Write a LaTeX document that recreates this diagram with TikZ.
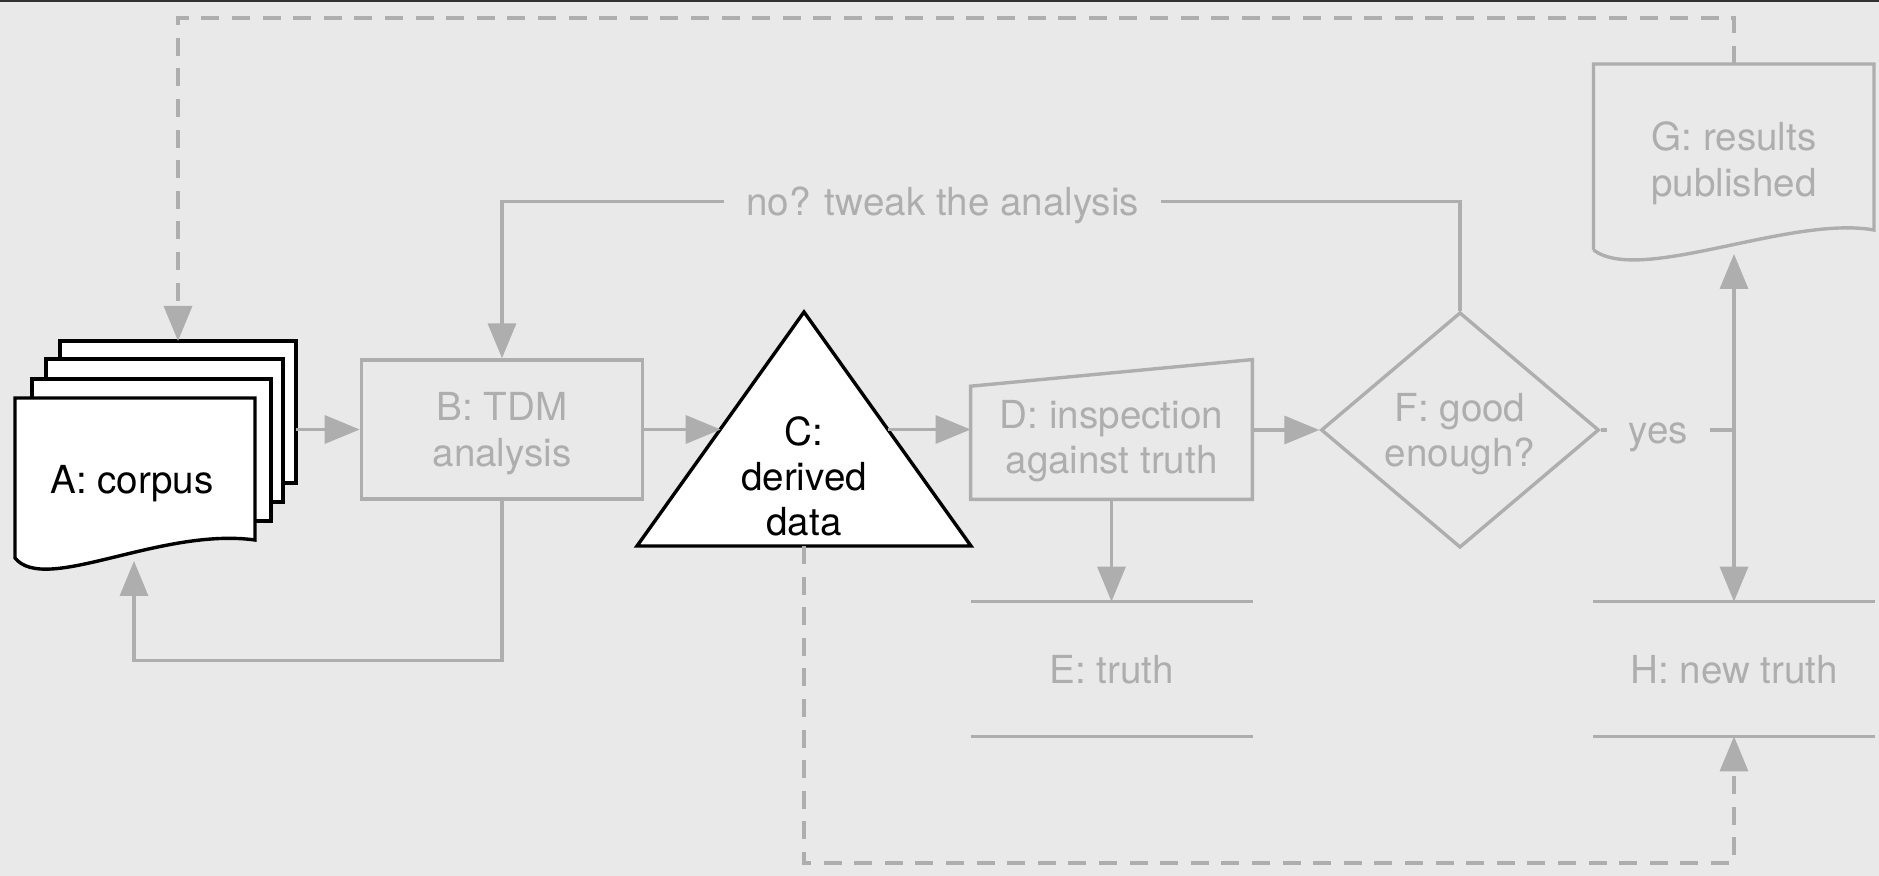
\documentclass[tikz,border=0pt]{standalone}
\usepackage{fontspec}
\setmainfont{TeX Gyre Heros}
\usetikzlibrary{arrows.meta,shapes.geometric}

\definecolor{bgcol}{RGB}{233,233,233}
\definecolor{lncol}{RGB}{174,174,174}
\definecolor{topcol}{RGB}{50,50,50}

\tikzset{
	ln/.style={draw=lncol,line width=1.7pt},
	blk/.style={draw=black,line width=1.7pt,fill=white},
	dsh/.style={ln,dash pattern=on 9pt off 6.3pt},
	txt/.style={font=\fontsize{19.3}{22.7}\selectfont,align=center,text depth=0pt,inner sep=0pt},
	gtxt/.style={txt,text=lncol},
	lbl/.style={gtxt,fill=bgcol,text height=13.9pt,inner xsep=11pt,inner ysep=3pt},
	box/.style={gtxt,minimum width=140.6pt,minimum height=69.5pt},
	store/.style={gtxt,minimum width=140.6pt,minimum height=67pt},
	>={Triangle[length=17.5pt,width=14pt]}
}

\begin{document}
\begin{tikzpicture}[x=0.5pt,y=-0.5pt]
	\useasboundingbox (0,0) rectangle (1879,876);
	\fill[bgcol] (0,0) rectangle (1879,876);
	\fill[topcol] (0,0) rectangle (1879,2);

	% A: stack of sheets
	\draw[blk] (60,341) rectangle (296,483);
	\draw[blk] (46,359) rectangle (283,502);
	\draw[blk] (32,379) rectangle (271,521);
	\draw[blk] (15,398) -- (255,398) -- (255,540) .. controls (160,527) and (45,595) .. (15,558) -- cycle;
	\node[txt] (A) at (132,479) {A: corpus};
	\coordinate (A-r) at (296,429.5);
	\coordinate (A-t) at (178,341);
	\coordinate (A-b) at (134,561);

	% B
	\node[box,draw=lncol,line width=1.7pt] (B) at (502,429.5) {B: TDM\\analysis};

	% C: triangle
	\draw[blk] (804,312) -- (971,546) -- (637,546) -- cycle;
	\node[txt] (C) at (804,476) {C:\\derived\\data};
	\coordinate (C-l) at (720.7,429.5);
	\coordinate (C-r) at (887.5,429.5);
	\coordinate (C-b) at (804,546);

	% D: slanted top
	\node[gtxt,minimum width=140.5pt,minimum height=62pt] (D) at (1111.5,437) {D: inspection\\against truth};
	\draw[ln] (D.south west) -- (D.south east) -- ([yshift=7.5pt]D.north east) -- ([yshift=-5.8pt]D.north west) -- cycle;

	% E
	\node[store] (E) at (1111.5,669) {E: truth};
	\draw[ln] (E.north west) -- (E.north east) (E.south west) -- (E.south east);

	% F
	\node[gtxt,diamond,draw=lncol,line width=1.7pt,minimum width=139pt,minimum height=117.7pt] (F) at (1460,430) {F: good\\enough?};

	% G: document
	\draw[ln] (1593.5,250) -- (1593.5,64) -- (1874,64) -- (1874,230) .. controls (1790,215) and (1640,285) .. (1593.5,250);
	\node[gtxt] (G) at (1734,159) {G: results\\published};
	\coordinate (G-t) at (1734,64);
	\coordinate (G-b) at (1734,254);

	% H
	\node[store] (H) at (1734,669) {H: new truth};
	\draw[ln] (H.north west) -- (H.north east) (H.south west) -- (H.south east);

	% connectors
	\draw[ln,->] (A-r) -- (A-r -| B.west);
	\draw[ln,->] (B.east) -- (C-l);
	\draw[ln,->] (B.south) -- ++(0,160) -| (A-b);
	\draw[ln,->] (C-r) -- (C-r -| D.west);
	\draw[ln,->] (D.east |- F.west) -- (F.west);
	\draw[ln,->] (D.south) -- (E.north);
	\draw[ln,->] (F.north) -- ++(0,-109) -| node[lbl,pos=0.27] {no? tweak the analysis} (B.north);
	\coordinate (J) at (G-b |- F.east);
	\draw[ln] (F.east) -- node[lbl,pos=0.433] {yes} (J);
	\draw[ln,->] (J) -- (G-b);
	\draw[ln,->] (J) -- (H.north);

	% dashed feedback
	\draw[dsh,->] (G-t) -- ++(0,-46) -| (A-t);
	\draw[dsh,->] (C-b) -- ++(0,317) -| (H.south);
\end{tikzpicture}
\end{document}
